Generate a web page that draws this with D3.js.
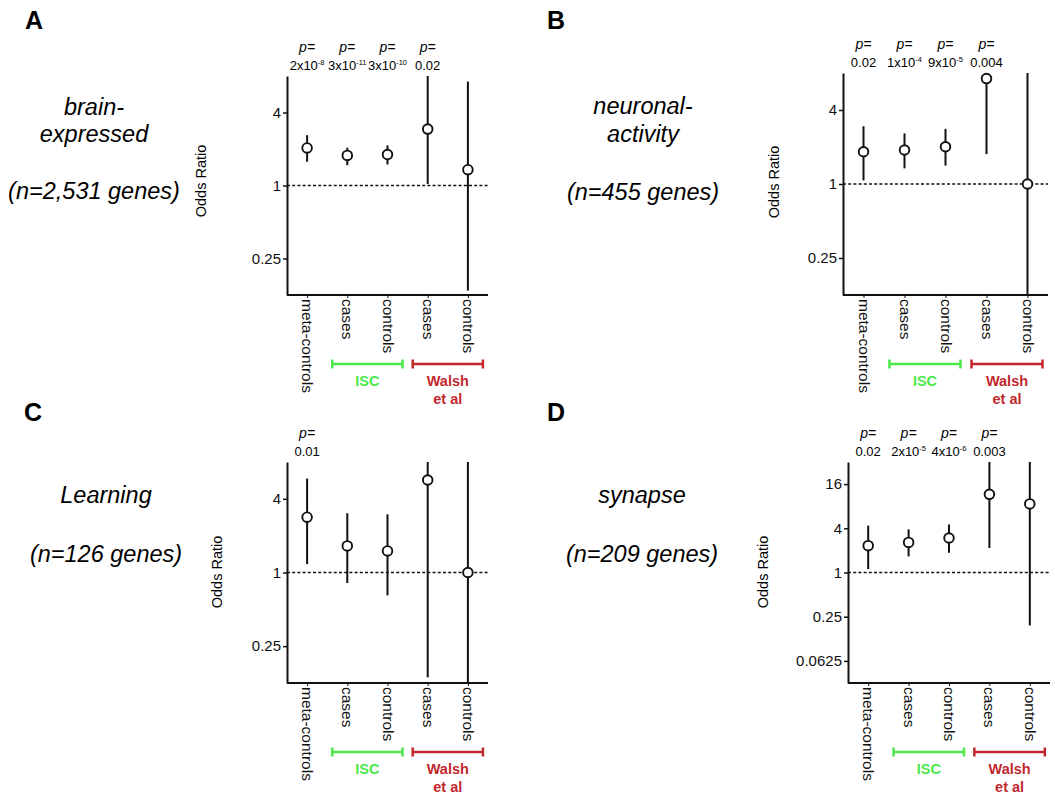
<!DOCTYPE html>
<html>
<head>
<meta charset="utf-8">
<script src="https://cdn.jsdelivr.net/npm/d3@7"></script>
<style>
  html, body { margin: 0; padding: 0; background: #fff; }
  svg { display: block; font-family: "Liberation Sans", Arial, Helvetica, sans-serif; }
</style>
</head>
<body>
<svg id="chart" width="1055" height="800"></svg>
<script>
// ---------------- DATA ----------------
const categories = ["meta-controls", "cases", "controls", "cases", "controls"];
const panelLetters = ["A", "B", "C", "D"];
const setNames = [["brain-", "expressed"], ["neuronal-", "activity"], ["Learning"], ["synapse"]];
const geneCounts = ["(n=2,531 genes)", "(n=455 genes)", "(n=126 genes)", "(n=209 genes)"];

// odds ratios and confidence interval ends (clipped to axis range)
const orA = [2.04, 1.77, 1.80, 2.92, 1.35];
const loA = [1.57, 1.47, 1.49, 1.03, 0.136];
const hiA = [2.60, 2.05, 2.14, 8, 7.2];

const orB = [1.83, 1.89, 2.01, 7.2, 1.0];
const loB = [1.07, 1.34, 1.41, 1.75, 0.125];
const hiB = [2.95, 2.58, 2.81, 8, 8];

const orC = [2.83, 1.65, 1.50, 5.7, 1.0];
const loC = [1.17, 0.82, 0.65, 0.139, 0.125];
const hiC = [5.86, 3.05, 2.99, 8, 8];

const orD = [2.32, 2.57, 2.95, 11.6, 8.6];
const loD = [1.11, 1.66, 1.86, 2.16, 0.19];
const hiD = [4.35, 3.87, 4.50, 32, 32];

// p-values: [mantissa text, superscript exponent] or null
const pA = [["2x10", "-8"], ["3x10", "-11"], ["3x10", "-10"], ["0.02", ""], null];
const pB = [["0.02", ""], ["1x10", "-4"], ["9x10", "-5"], ["0.004", ""], null];
const pC = [["0.01", ""], null, null, null, null];
const pD = [["0.02", ""], ["2x10", "-5"], ["4x10", "-6"], ["0.003", ""], null];

const ticksABC = [0.25, 1, 4];
const ticksD = [0.0625, 0.25, 1, 4, 16];
const domainABC = [0.125, 8];
const domainD = [0.03125, 32];

const groupNames = ["ISC", "Walsh"];
const groupMembers = [[1, 2], [3, 4]];

// ---------------- LAYOUT ----------------
const layout = [
  { x0: 287, x1: 488, yTop: 76, yBot: 295, lx: 25, ly: 29, tx: 94, ty: [115, 141.5], ny: 199, ox: 201, oy: 181 },
  { x0: 843, x1: 1048, yTop: 73, yBot: 295, lx: 547, ly: 29, tx: 643, ty: [113.5, 141.5], ny: 200, ox: 774, oy: 182 },
  { x0: 287, x1: 488, yTop: 462, yBot: 683, lx: 24, ly: 421, tx: 106, ty: [503], ny: 561.5, ox: 217, oy: 572 },
  { x0: 848, x1: 1050, yTop: 462, yBot: 683, lx: 547, ly: 421, tx: 642, ty: [503], ny: 561.5, ox: 763, oy: 572 }
];

const panels = [
  { or: orA, lo: loA, hi: hiA, p: pA, ticks: ticksABC, domain: domainABC },
  { or: orB, lo: loB, hi: hiB, p: pB, ticks: ticksABC, domain: domainABC },
  { or: orC, lo: loC, hi: hiC, p: pC, ticks: ticksABC, domain: domainABC },
  { or: orD, lo: loD, hi: hiD, p: pD, ticks: ticksD, domain: domainD }
];

const green = "#4be84b";
const red = "#c1272d";

const svg = d3.select("#chart");

panels.forEach((pd, i) => {
  const L = layout[i];
  const g = svg.append("g");

  // panel letter
  g.append("text").attr("x", L.lx).attr("y", L.ly)
    .style("font-size", "25px").style("font-weight", "bold")
    .text(panelLetters[i]);

  // set name + gene count
  setNames[i].forEach((t, k) => {
    g.append("text").attr("x", L.tx).attr("y", L.ty[k])
      .attr("text-anchor", "middle")
      .style("font-size", "23.5px").style("font-style", "italic")
      .text(t);
  });
  g.append("text").attr("x", L.tx).attr("y", L.ny)
    .attr("text-anchor", "middle")
    .style("font-size", "23.5px").style("font-style", "italic")
    .text(geneCounts[i]);

  // scales
  const idx = d3.range(categories.length);
  const x = d3.scalePoint().domain(idx).range([L.x0, L.x1]).padding(0.5);
  const y = d3.scaleLog().base(2).domain(pd.domain).range([L.yBot, L.yTop]).clamp(true);

  // y axis
  const ya = g.append("g").attr("transform", `translate(${L.x0},0)`)
    .call(d3.axisLeft(y).tickValues(pd.ticks).tickFormat(d => String(d)).tickSize(4).tickSizeOuter(0).tickPadding(2));
  ya.select(".domain").attr("stroke", "#111").attr("stroke-width", 2);
  ya.selectAll(".tick line").attr("stroke", "#111").attr("stroke-width", 1.5);
  ya.selectAll(".tick text").style("font-size", "15px").attr("fill", "#111")
    .style("font-family", "'Liberation Sans', Arial, sans-serif");

  // x axis
  const xa = g.append("g").attr("transform", `translate(0,${L.yBot})`)
    .call(d3.axisBottom(x).tickFormat(d => categories[d]).tickSize(3).tickSizeOuter(0).tickPadding(2));
  xa.select(".domain").attr("stroke", "#111").attr("stroke-width", 2)
    .attr("d", `M${L.x0},0H${L.x1}`);
  xa.selectAll(".tick line").attr("stroke", "#111").attr("stroke-width", 1);
  xa.selectAll(".tick text")
    .attr("transform", "rotate(90)")
    .attr("x", 4).attr("y", 0).attr("dy", "0.35em")
    .style("text-anchor", "start")
    .style("font-size", "15.5px").attr("fill", "#111")
    .style("font-family", "'Liberation Sans', Arial, sans-serif");

  // y label
  g.append("text")
    .attr("transform", `translate(${L.ox},${L.oy}) rotate(-90)`)
    .attr("text-anchor", "middle").attr("dy", "0.35em")
    .style("font-size", "14.5px")
    .text("Odds Ratio");

  // reference line at OR = 1
  g.append("line")
    .attr("x1", L.x0).attr("x2", L.x1)
    .attr("y1", y(1)).attr("y2", y(1))
    .attr("stroke", "#111").attr("stroke-width", 1.5)
    .attr("stroke-dasharray", "3,2.2");

  // CI lines
  g.selectAll(".ci").data(idx).enter().append("line")
    .attr("x1", d => x(d)).attr("x2", d => x(d))
    .attr("y1", d => y(pd.lo[d])).attr("y2", d => y(pd.hi[d]))
    .attr("stroke", "#111").attr("stroke-width", 2);

  // points
  g.selectAll(".pt").data(idx).enter().append("circle")
    .attr("cx", d => x(d)).attr("cy", d => y(pd.or[d]))
    .attr("r", 4.8)
    .attr("fill", "#fff").attr("stroke", "#111").attr("stroke-width", 1.9);

  // p-values
  idx.forEach(d => {
    const pv = pd.p[d];
    if (!pv) return;
    g.append("text").attr("x", x(d)).attr("y", L.yTop - 24)
      .attr("text-anchor", "middle")
      .style("font-size", "14px").style("font-style", "italic")
      .text("p=");
    const t = g.append("text").attr("x", x(d)).attr("y", L.yTop - 6)
      .attr("text-anchor", "middle")
      .style("font-size", "13px");
    t.append("tspan").text(pv[0]);
    if (pv[1]) {
      t.append("tspan").attr("dy", -5).style("font-size", "7.5px").text(pv[1]);
    }
  });

  // group brackets
  const by = L.yBot + 69;
  groupMembers.forEach((mem, gi) => {
    const col = gi === 0 ? green : red;
    const xa0 = x(mem[0]) - 15, xa1 = x(mem[1]) + 15;
    g.append("line").attr("x1", xa0).attr("x2", xa1).attr("y1", by).attr("y2", by)
      .attr("stroke", col).attr("stroke-width", 2.5);
    [xa0, xa1].forEach(xx => {
      g.append("line").attr("x1", xx).attr("x2", xx).attr("y1", by - 4.5).attr("y2", by + 4.5)
        .attr("stroke", col).attr("stroke-width", 2.5);
    });
    const cx = (xa0 + xa1) / 2;
    g.append("text").attr("x", cx).attr("y", by + 22)
      .attr("text-anchor", "middle").attr("fill", col)
      .style("font-size", "14.5px").style("font-weight", "bold")
      .text(groupNames[gi]);
    if (gi === 1) {
      g.append("text").attr("x", cx).attr("y", by + 39.5)
        .attr("text-anchor", "middle").attr("fill", col)
        .style("font-size", "14.5px").style("font-weight", "bold")
        .text("et al");
    }
  });
});
</script>
</body>
</html>
